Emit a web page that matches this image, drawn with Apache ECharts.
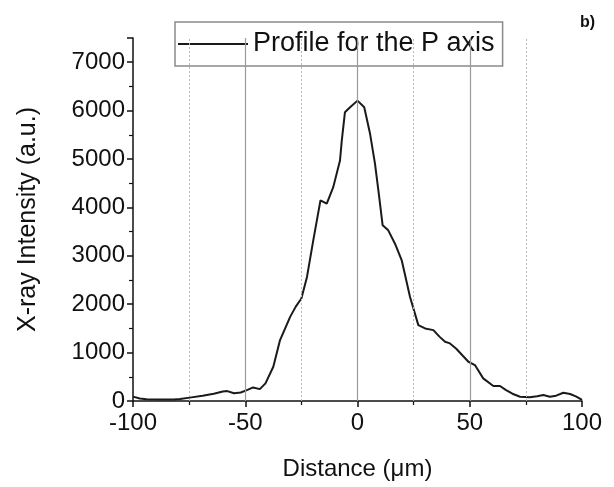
<!DOCTYPE html>
<html>
<head>
<meta charset="utf-8">
<script src="https://cdn.jsdelivr.net/npm/echarts@6/dist/echarts.min.js"></script>
<style>
  html, body { margin: 0; padding: 0; background: #fff; }
  #chart { width: 614px; height: 487px; }
</style>
</head>
<body>
<div id="chart"></div>
<script>
// distance along the profile (um) and measured intensity (a.u.)
var distance = [-100, -97, -94, -88, -82, -79, -74, -69, -64, -60, -58, -55, -52, -49, -46.5, -43.5, -41, -37.5, -34.5, -30,
  -27.5, -25, -22.5, -19.7, -16.5, -13.7, -10.8, -7.8, -7, -5.6, -3.3, 0, 3, 5.6, 7.8, 9.3, 11.2, 13.7, 16.7, 19.7,
  23.4, 27.1, 30.1, 33.8, 36.5, 39, 41.2, 44, 47, 49.4, 52.3, 56, 60.5, 63.5, 66, 69, 72.4, 76.8, 80, 82.8,
  85.7, 88.5, 91.7, 94.7, 97.5, 100];
var intensity = [90, 50, 35, 30, 30, 40, 75, 110, 150, 195, 205, 160, 175, 230, 280, 245, 365, 707, 1258, 1738,
  1950, 2118, 2563, 3320, 4144, 4076, 4419, 4969, 5381, 5965, 6068, 6206, 6068, 5520, 4900, 4350, 3630, 3526, 3250, 2907,
  2150, 1567, 1500, 1464, 1330, 1223, 1190, 1080, 930, 811, 742, 467, 309, 309, 230, 150, 89, 76, 100, 124,
  89, 110, 171, 144, 90, 21];

var seriesName = "Profile for the P axis";
var solidGrid = [-50, 0, 50];       // major vertical grid lines
var dottedGrid = [-75, -25, 25, 75]; // minor vertical grid lines

var points = distance.map(function(d, i) { return [d, intensity[i]]; });

var chart = echarts.init(document.getElementById("chart"));

var gridLines = solidGrid.map(function(v) {
  return { xAxis: v, lineStyle: { color: "#9a9a9a", width: 1.2, type: "solid" } };
}).concat(dottedGrid.map(function(v) {
  return { xAxis: v, lineStyle: { color: "#b8b8b8", width: 1, type: [2, 2] } };
}));

var font = "Liberation Sans, Arial, sans-serif";

chart.setOption({
  animation: false,
  backgroundColor: "#fff",
  title: {
    text: "b)",
    right: 14,
    top: 10,
    textStyle: { fontFamily: font, fontSize: 16, fontWeight: "bold", color: "#111" }
  },
  legend: {
    left: 175,
    top: 22,
    padding: [7, 8, 7, 3],
    itemWidth: 70,
    itemHeight: 2,
    itemGap: 8,
    borderColor: "#8a8a8a",
    borderWidth: 1.5,
    backgroundColor: "#fff",
    data: [{ name: seriesName, icon: "rect" }],
    itemStyle: { color: "#1a1a1a" },
    textStyle: { fontFamily: font, fontSize: 27, color: "#111", lineHeight: 30 }
  },
  grid: { left: 133, right: 32, top: 38, bottom: 86 },
  xAxis: {
    type: "value",
    min: -100,
    max: 100,
    interval: 50,
    name: "Distance (\u03bcm)",
    nameLocation: "middle",
    nameGap: 56,
    nameTextStyle: { fontFamily: font, fontSize: 24, color: "#111" },
    axisLine: { onZero: false, lineStyle: { color: "#111", width: 1.5 } },
    axisTick: { length: 6, lineStyle: { color: "#111", width: 1.5 } },
    minorTick: { show: true, splitNumber: 2, length: 4, lineStyle: { color: "#111", width: 1.2 } },
    axisLabel: { fontFamily: font, fontSize: 24, color: "#111", margin: 10 },
    splitLine: { show: false }
  },
  yAxis: {
    type: "value",
    min: 0,
    max: 7500,
    interval: 1000,
    name: "X-ray Intensity (a.u.)",
    nameLocation: "middle",
    nameGap: 92,
    nameTextStyle: { fontFamily: font, fontSize: 25, color: "#111" },
    axisLine: { show: true, onZero: false, lineStyle: { color: "#111", width: 1.5 } },
    axisTick: { show: true, length: 6, lineStyle: { color: "#111", width: 1.5 } },
    minorTick: { show: true, splitNumber: 2, length: 4, lineStyle: { color: "#111", width: 1.2 } },
    axisLabel: {
      fontFamily: font, fontSize: 24, color: "#111", margin: 8, showMaxLabel: false,
      formatter: function(v) { return String(v); }
    },
    splitLine: { show: false }
  },
  series: [{
    name: seriesName,
    type: "line",
    data: points,
    symbol: "none",
    lineStyle: { color: "#1a1a1a", width: 2 },
    itemStyle: { color: "#1a1a1a" },
    markLine: {
      silent: true,
      symbol: "none",
      label: { show: false },
      data: gridLines
    }
  }]
});
</script>
</body>
</html>
